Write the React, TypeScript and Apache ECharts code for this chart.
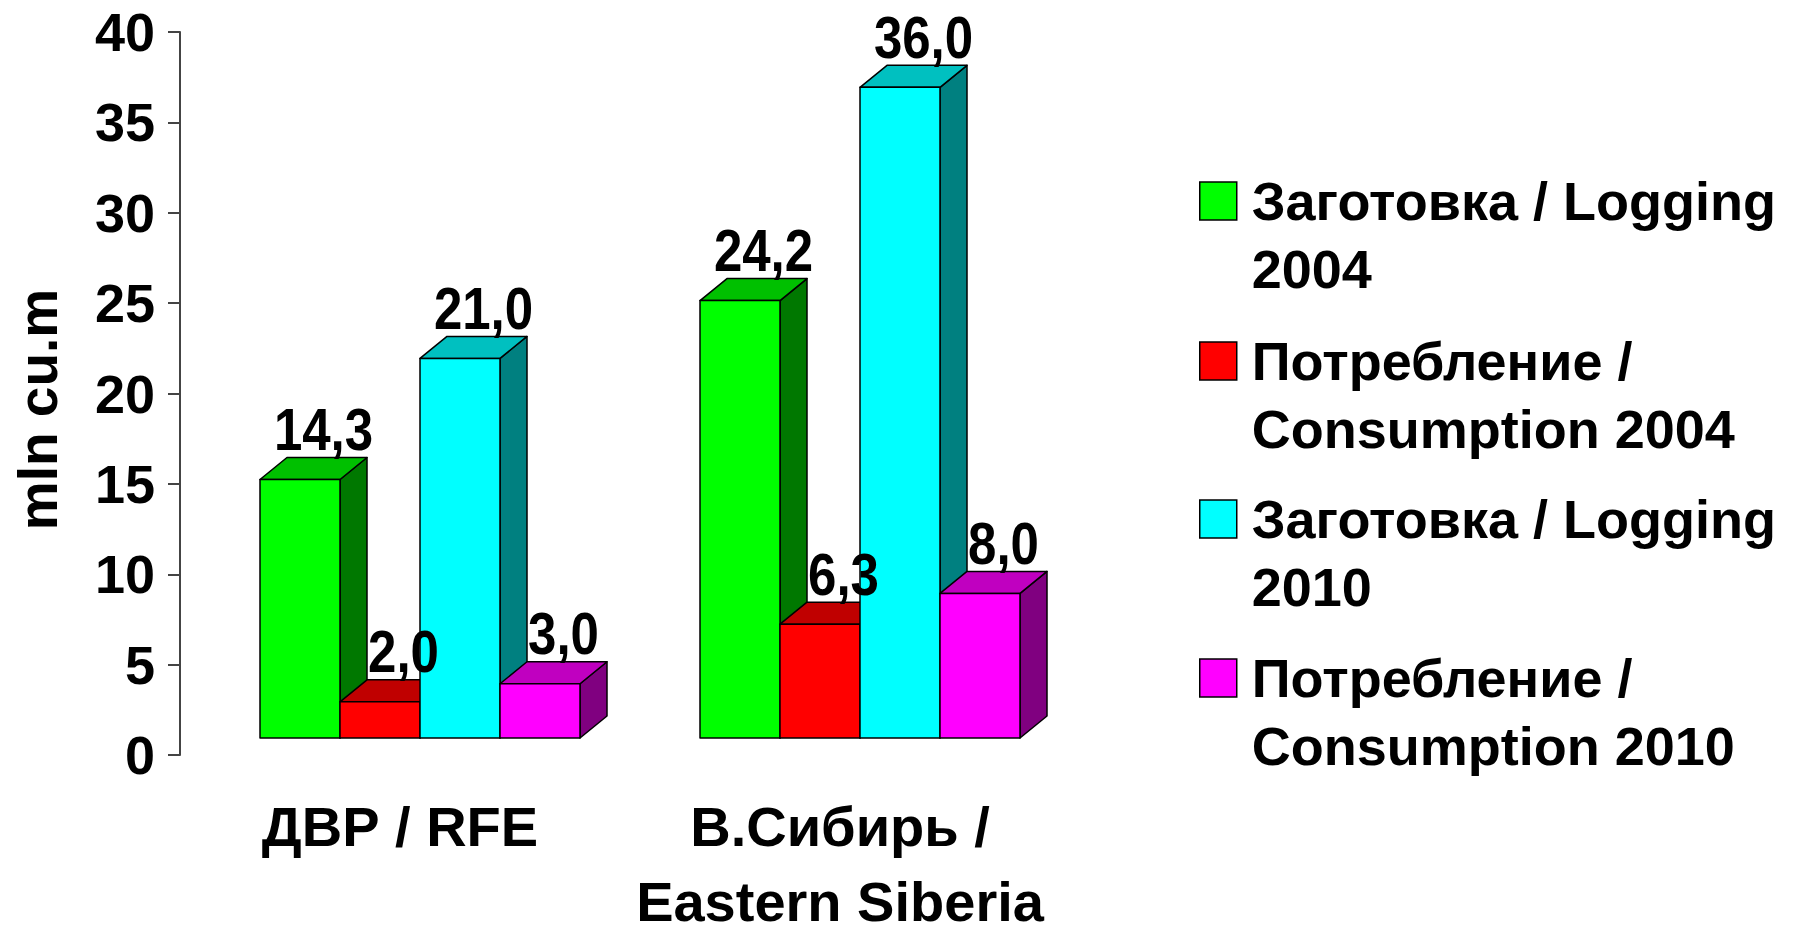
import React, { useEffect, useRef } from "react";
import * as echarts from "echarts";

// ---- data ----
const categories = ["ДВР / RFE", "В.Сибирь /\nEastern Siberia"];
const seriesNames = [
  "Заготовка / Logging\n2004",
  "Потребление /\nConsumption 2004",
  "Заготовка / Logging\n2010",
  "Потребление /\nConsumption 2010",
];
const logging2004 = [14.3, 24.2];
const consumption2004 = [2.0, 6.3];
const logging2010 = [21.0, 36.0];
const consumption2010 = [3.0, 8.0];
const seriesValues = [logging2004, consumption2004, logging2010, consumption2010];
const yTicks = [0, 5, 10, 15, 20, 25, 30, 35, 40];

// ---- styles ----
const FRONT = ["#00FF00", "#FF0000", "#00FFFF", "#FF00FF"];
const TOP = ["#00C000", "#C00000", "#00C0C0", "#C000C0"];
const SIDE = ["#007800", "#800000", "#008080", "#800080"];
const FONT = "'Liberation Sans', Arial, Helvetica, sans-serif";
const DX = 27;
const DY = 22;
const LIFT = 17;

const fmt = (v: number) => v.toFixed(1).replace(".", ",");

export default function App() {
  const ref = useRef<HTMLDivElement>(null);
  useEffect(() => {
    if (!ref.current) return;
    const chart = echarts.init(ref.current, undefined, { renderer: "svg" });

    const makeRender = (idx: number) => (params: any, api: any) => {
      const cat = api.value(0);
      const v = api.value(1);
      const band = api.size([1, 0])[0];
      const bw = (band * 320) / 440 / 4;
      const [cx, yv] = api.coord([cat, v]);
      const y0 = api.coord([cat, 0])[1];
      const x0 = cx + (idx - 2) * bw;
      const x1 = x0 + bw;
      const top = yv - LIFT;
      const base = y0 - LIFT;
      const stroke = { stroke: "#000", lineWidth: 1.5, lineJoin: "round" };
      return {
        type: "group",
        children: [
          {
            type: "polygon",
            shape: { points: [[x1, top], [x1 + DX, top - DY], [x1 + DX, base - DY], [x1, base]] },
            style: { fill: SIDE[idx], ...stroke },
          },
          {
            type: "polygon",
            shape: { points: [[x0, top], [x0 + DX, top - DY], [x1 + DX, top - DY], [x1, top]] },
            style: { fill: TOP[idx], ...stroke },
          },
          {
            type: "rect",
            shape: { x: x0, y: top, width: bw, height: base - top },
            style: { fill: FRONT[idx], ...stroke },
          },
          {
            type: "text",
            x: (x0 + x1) / 2 + DX / 2 + 10,
            y: top - DY - 28,
            scaleX: 0.85,
            style: {
              text: fmt(v),
              fill: "#000",
              font: `bold 60px ${FONT}`,
              align: "center",
              verticalAlign: "middle",
            },
            z2: 100,
          },
        ],
      };
    };

    const legendTops = [94, 254, 412, 571];

    chart.setOption({
      animation: false,
      backgroundColor: "#fff",
      grid: { left: 200, top: 32, width: 880, height: 734 },
      legend: seriesNames.map((n, i) => ({
        data: [n],
        left: 1194,
        top: legendTops[i],
        orient: "vertical",
        icon: "rect",
        itemWidth: 37,
        itemHeight: 38,
        selectedMode: false,
        formatter: (name: string) => "\n" + name,
        itemStyle: { borderColor: "#000", borderWidth: 1.5 },
        textStyle: {
          fontFamily: FONT,
          fontWeight: "bold",
          fontSize: 54,
          lineHeight: 68,
          color: "#000",
          padding: [0, 0, 0, 10],
        },
      })),
      xAxis: {
        type: "category",
        data: categories,
        axisLine: { show: false },
        axisTick: { show: false },
        axisLabel: {
          interval: 0,
          margin: 34,
          fontFamily: FONT,
          fontWeight: "bold",
          fontSize: 56,
          lineHeight: 75,
          color: "#000",
          padding: [0, 40, 0, 0],
        },
      },
      yAxis: {
        type: "value",
        min: yTicks[0],
        max: yTicks[yTicks.length - 1],
        interval: 5,
        offset: 20,
        name: "mln cu.m",
        nameLocation: "middle",
        nameGap: 115,
        nameTextStyle: {
          fontFamily: FONT,
          fontWeight: "bold",
          fontSize: 55,
          color: "#000",
          padding: [0, 32, 0, 0],
        },
        splitLine: { show: false },
        axisLine: { show: true, lineStyle: { color: "#444", width: 2 } },
        axisTick: { show: true, length: 12, lineStyle: { color: "#444", width: 2 } },
        axisLabel: {
          margin: 25,
          fontFamily: FONT,
          fontWeight: "bold",
          fontSize: 54,
          color: "#000",
          padding: [8, 0, 0, 0],
        },
      },
      series: seriesNames.map((n, i) => ({
        type: "custom",
        name: n,
        clip: false,
        itemStyle: { color: FRONT[i] },
        encode: { x: 0, y: 1 },
        data: seriesValues[i].map((v, c) => [c, v]),
        renderItem: makeRender(i),
      })),
    });
    return () => chart.dispose();
  }, []);
  return (
    <div
      ref={ref}
      style={{ position: "fixed", left: 0, top: 0, width: 1800, height: 939, background: "#fff" }}
    />
  );
}
